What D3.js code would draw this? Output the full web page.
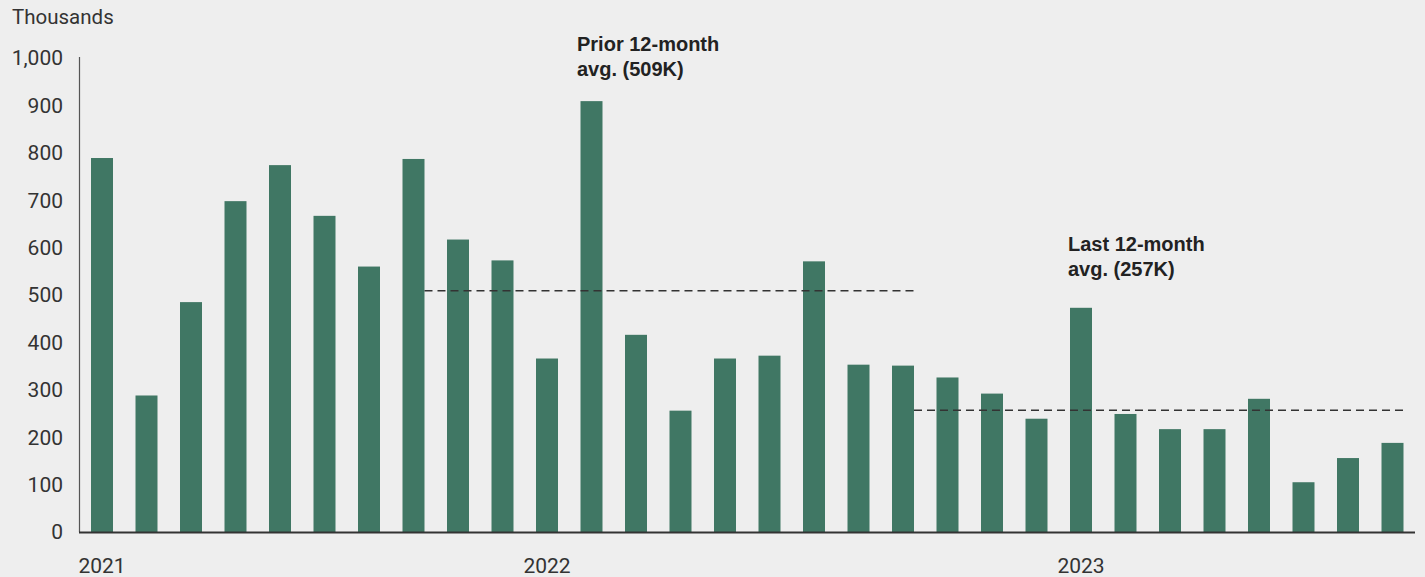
<!DOCTYPE html>
<html>
<head>
<meta charset="utf-8">
<script src="https://cdn.jsdelivr.net/npm/d3@7"></script>
<style>
  html, body { margin: 0; padding: 0; background: #eeeeee; }
  svg { display: block; }
  text { font-family: Roboto, "Liberation Sans", Arial, sans-serif; }
  text.ann { font-family: "Liberation Sans", Arial, sans-serif; font-weight: bold; }
</style>
</head>
<body>
<svg id="chart" width="1425" height="577"></svg>
<script>
// Data: monthly values (thousands), Mar 2021 – Aug 2023
const months = [
  "Mar 2021","Apr 2021","May 2021","Jun 2021","Jul 2021","Aug 2021","Sep 2021","Oct 2021","Nov 2021","Dec 2021",
  "Jan 2022","Feb 2022","Mar 2022","Apr 2022","May 2022","Jun 2022","Jul 2022","Aug 2022","Sep 2022","Oct 2022",
  "Nov 2022","Dec 2022","Jan 2023","Feb 2023","Mar 2023","Apr 2023","May 2023","Jun 2023","Jul 2023","Aug 2023"
];
const values = [
  789, 288, 485, 698, 774, 667, 560, 787, 617, 573,
  366, 909, 416, 256, 366, 372, 571, 353, 351, 326,
  292, 239, 473, 249, 217, 217, 281, 105, 156, 188
];
const yTicks = [0, 100, 200, 300, 400, 500, 600, 700, 800, 900, 1000];
const xTickMonths = ["Mar 2021", "Jan 2022", "Jan 2023"];
const xTickLabels = ["2021", "2022", "2023"];
const averages = [
  { label: ["Prior 12-month", "avg. (509K)"], value: 509, from: "Oct 2021", to: "Sep 2022" },
  { label: ["Last 12-month", "avg. (257K)"], value: 257, from: "Sep 2022", to: "Aug 2023" }
];

const svg = d3.select("#chart");

const x = d3.scaleBand()
  .domain(months)
  .range([79.75, 1414.75])
  .paddingInner(0.506)
  .paddingOuter(0.253);

const y = d3.scaleLinear().domain([0, 1000]).range([532, 58]);

// Bars
svg.append("g").selectAll("rect")
  .data(values)
  .join("rect")
  .attr("x", (d, i) => x(months[i]))
  .attr("y", d => y(d))
  .attr("width", x.bandwidth())
  .attr("height", d => y(0) - y(d))
  .attr("fill", "#407764");

// Y axis line
svg.append("line")
  .attr("x1", 79.5).attr("x2", 79.5)
  .attr("y1", 57).attr("y2", y(0))
  .attr("stroke", "#555").attr("stroke-width", 1.2);

// Y tick labels
svg.append("g").selectAll("text")
  .data(yTicks)
  .join("text")
  .attr("x", 63)
  .attr("y", d => y(d))
  .attr("dy", "0.35em")
  .attr("text-anchor", "end")
  .attr("font-size", 21)
  .attr("fill", "#333")
  .text(d => d3.format(",")(d));

// Y axis title
svg.append("text")
  .attr("x", 12).attr("y", 24)
  .attr("font-size", 20.5)
  .attr("fill", "#333")
  .text("Thousands");

// X baseline
svg.append("line")
  .attr("x1", 79).attr("x2", 1415)
  .attr("y1", y(0) + 0.5).attr("y2", y(0) + 0.5)
  .attr("stroke", "#333").attr("stroke-width", 2);

// X tick labels
svg.append("g").selectAll("text")
  .data(xTickMonths)
  .join("text")
  .attr("x", d => x(d) + x.bandwidth() / 2)
  .attr("y", 573)
  .attr("text-anchor", "middle")
  .attr("font-size", 21)
  .attr("fill", "#333")
  .text((d, i) => xTickLabels[i]);

// Average dashed lines
svg.append("g").selectAll("line")
  .data(averages)
  .join("line")
  .attr("x1", d => x(d.from) + x.bandwidth())
  .attr("x2", d => x(d.to) + x.bandwidth())
  .attr("y1", d => y(d.value))
  .attr("y2", d => y(d.value))
  .attr("stroke", "#333")
  .attr("stroke-width", 1.6)
  .attr("stroke-dasharray", "8,5");

// Annotations
const annPos = [{ x: 577, y: 51 }, { x: 1068, y: 251 }];
averages.forEach((a, i) => {
  const t = svg.append("text")
    .attr("class", "ann")
    .attr("x", annPos[i].x).attr("y", annPos[i].y)
    .attr("font-size", 20)
    .attr("fill", "#222");
  a.label.forEach((line, j) => {
    t.append("tspan")
      .attr("x", annPos[i].x)
      .attr("dy", j === 0 ? 0 : 25)
      .text(line);
  });
});
</script>
</body>
</html>
